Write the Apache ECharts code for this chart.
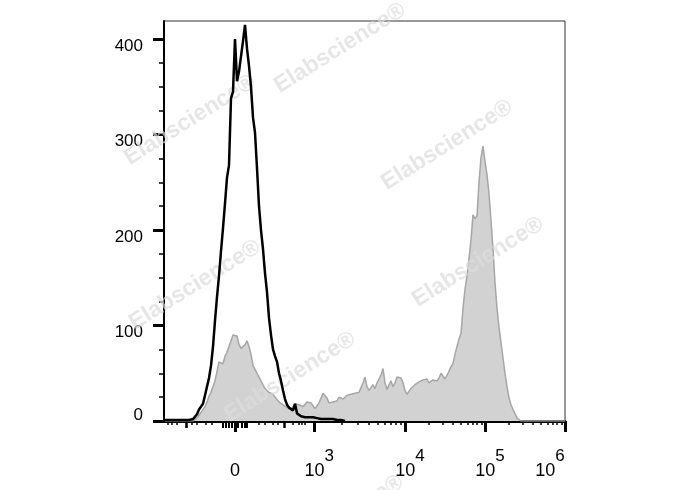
<!DOCTYPE html>
<html><head><meta charset="utf-8">
<script src="https://cdn.jsdelivr.net/npm/echarts@6/dist/echarts.min.js"></script>
<style>html,body{margin:0;padding:0;background:#fff}#c{width:688px;height:490px}</style>
</head><body><div id="c"></div>
<script>
// ---- data (histogram bins on the display channel axis) ----
const binStart = -70;   // display channel of first bin
const binStep = 2;      // bin width in display channels
// isotype / unstained control (black outline)
const controlCounts = [
 1,1,1,1,1,1,1,1,1,1,1,1,1,1,2,
 4,7,12,14,18,27,36,45,58,78,
 105,130,152,178,202,228,255,268,338,345,
 400,356,366,382,398,415,390,372,350,318,
 302,265,225,200,180,155,135,108,90,75,
 68,62,50,42,32,23,17,14,12,11,
 18,8,6,5,5,4,5,4,3,4,
 3,3,3,2,3,2,2,2,1,2,
 1,1,2,1,0,0
];
// stained sample (grey filled)
const stainedCounts = [
 0,0,0,0,0,0,0,0,0,0,0,0,0,0,0,
 1,3,6,9,11,15,20,26,30,32,
 42,52,62,64,60,68,72,78,84,90,
 92,89,80,76,74,80,84,78,70,58,
 54,50,46,42,38,34,32,30,29,28,
 25,24,20,19,17,15,14,13,12,14,
 18,20,17,19,15,17,20,22,19,16,
 13,15,19,24,29,31,24,19,21,20,
 19,21,25,24,23,25,27,25,28,27,
 29,31,30,35,40,46,36,32,35,38,
 34,40,44,48,55,40,33,38,42,36,
 40,46,44,45,40,32,28,30,34,36,
 38,38,41,43,43,45,44,40,41,43,
 44,42,45,50,52,44,45,52,57,60,
 70,78,86,92,118,138,152,170,190,216,
 212,215,250,276,288,272,258,238,210,180,
 145,118,98,82,66,50,36,24,17,12,
 8,3,1,0,0,0,0,0,0,0,
 0,0,0,0,0,0,0,0,0,0,
 0,0,0,0,0,0
];
const yTickValues = [0, 100, 200, 300, 400];
const yMinorTickValues = [25,50,75,125,150,175,225,250,275,325,350,375];
const xMajorValues = [0, 1e3, 1e4, 1e5, 1e6];
const xMajorLabels = ['0', '3', '4', '5', '6']; // exponents of 10 ('0' = zero)
const xMidValues = [-100, 100];
const xZeroValues = [-8, -6, -4, -2, 2, 4, 6, 8];
const xMinorValues = [-400,-300,-200,-70,-50,-30,-20,20,30,50,70,200,300,400,500,
  2e3,3e3,4e3,5e3,6e3,7e3,8e3,9e3,2e4,3e4,4e4,5e4,6e4,7e4,8e4,9e4,
  2e5,3e5,4e5,5e5,6e5,7e5,8e5,9e5];
const watermark = 'Elabscience®';

// ---- biexponential-like display transform (value -> display channel) ----
const S = v => Math.asinh(Math.abs(v) / 10);
const anchorValues = [0, 100, 1e3, 1e4, 1e5, 1e6];
const anchorDisplay = [0, 49, 79.3, 170, 250, 330];
function biex(v) {
  const s = S(v);
  for (let k = 1; k < anchorValues.length; k++) {
    const s0 = S(anchorValues[k-1]), s1 = S(anchorValues[k]);
    if (s <= s1 || k === anchorValues.length - 1) {
      const d = anchorDisplay[k-1] + (s - s0) / (s1 - s0) * (anchorDisplay[k] - anchorDisplay[k-1]);
      return Math.sign(v) * d;
    }
  }
}
const X_MIN = -71, X_MAX = 330, Y_MAX = 419;

const toPairs = arr => arr.map((c, i) => [binStart + binStep * i, c]);

const majorDisp = xMajorValues.map(biex);
function xLabel(value) {
  let best = 0;
  majorDisp.forEach((d, i) => { if (Math.abs(d - value) < Math.abs(majorDisp[best] - value)) best = i; });
  const e = xMajorLabels[best];
  if (e === '0') return '{h|}{b|0}';
  if (best === xMajorLabels.length - 1) return '{h|}{b|10}{s|' + e + '}{t|}';
  return '{h|}{sp|}{b|10}{s|' + e + '}';
}

function tickAxis(values, len, width) {
  return {
    type: 'value', min: X_MIN, max: X_MAX, position: 'bottom', offset: 0, gridIndex: 0,
    axisLine: { show: false, onZero: false }, splitLine: { show: false },
    axisTick: { show: true, inside: false, length: len, customValues: values.map(biex),
      lineStyle: { color: '#000', width: width } },
    axisLabel: { show: false }
  };
}

const font = 'Liberation Sans, Arial, sans-serif';
const wmPos = [[340,48],[190,120],[447,145],[478,262],[195,285],[290,377],[338,520]];

const chart = echarts.init(document.getElementById('c'), null, { renderer: 'canvas' });
chart.setOption({
  animation: false,
  backgroundColor: '#fff',
  grid: { left: 164, right: 123, top: 21, bottom: 69, show: true, borderColor: '#333', borderWidth: 1, backgroundColor: 'transparent' },
  xAxis: [
    {
      type: 'value', min: X_MIN, max: X_MAX, position: 'bottom', offset: 0,
      axisLine: { show: true, onZero: false, lineStyle: { color: '#000', width: 3 } },
      splitLine: { show: false },
      axisTick: { show: true, inside: false, length: 11, customValues: majorDisp, lineStyle: { color: '#000', width: 3 } },
      axisLabel: {
        show: true, customValues: majorDisp, margin: 27, color: '#000', fontFamily: font,
        formatter: xLabel,
        rich: {
          h: { lineHeight: 32, width: 0 },
          sp: { width: 10, lineHeight: 32 },
          t: { width: 30, lineHeight: 32 },
          b: { fontSize: 18, lineHeight: 20, verticalAlign: 'bottom', fontFamily: font, color: '#000' },
          s: { fontSize: 17, lineHeight: 16, verticalAlign: 'top', fontFamily: font, color: '#000' }
        }
      }
    },
    tickAxis(xMidValues, 7, 2.5),
    tickAxis(xZeroValues, 7, 2),
    tickAxis(xMinorValues, 4, 1.5)
  ],
  yAxis: [
    {
      type: 'value', min: 0, max: Y_MAX, position: 'left', offset: 0,
      axisLine: { show: true, onZero: false, lineStyle: { color: '#000', width: 2 } },
      splitLine: { show: false },
      axisTick: { show: true, inside: false, length: 11, customValues: yTickValues, lineStyle: { color: '#000', width: 3 } },
      axisLabel: {
        show: true, customValues: yTickValues, margin: 21, color: '#000', fontFamily: font,
        formatter: v => v === 0 ? '{z|0}' : '{n|' + v + '}',
        rich: {
          n: { fontSize: 17, padding: [14, 0, 0, 0], fontFamily: font, color: '#000' },
          z: { fontSize: 17, padding: [0, 0, 12, 0], fontFamily: font, color: '#000' }
        }
      }
    },
    {
      type: 'value', min: 0, max: Y_MAX, position: 'left', offset: 0,
      axisLine: { show: false, onZero: false }, splitLine: { show: false },
      axisTick: { show: true, inside: false, length: 5, customValues: yMinorTickValues, lineStyle: { color: '#000', width: 1.5 } },
      axisLabel: { show: false }
    }
  ],
  series: [
    {
      name: 'stained', type: 'line', xAxisIndex: 0, yAxisIndex: 0, z: 1,
      data: toPairs(stainedCounts), showSymbol: false, smooth: false,
      lineStyle: { color: '#a6a6a6', width: 1.5 },
      areaStyle: { color: '#d2d2d2', opacity: 1, origin: 'start' }
    },
    {
      name: 'control', type: 'line', xAxisIndex: 0, yAxisIndex: 0, z: 3,
      data: toPairs(controlCounts), showSymbol: false, smooth: false,
      lineStyle: { color: '#000', width: 2.5 }
    }
  ],
  graphic: wmPos.map(p => ({
    type: 'text', x: p[0], y: p[1], rotation: 0.56, z: 2, silent: true,
    style: { text: watermark, font: 'bold 23px ' + font, fill: 'rgba(220,220,220,0.7)', align: 'center', verticalAlign: 'middle' }
  }))
});
</script>
</body></html>
